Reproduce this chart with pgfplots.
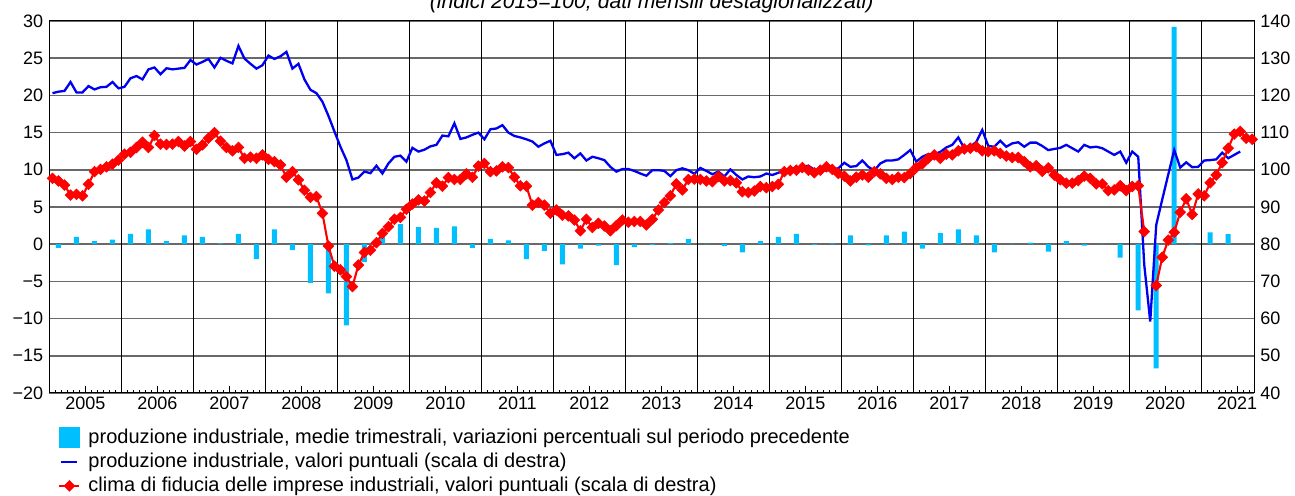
\documentclass[border=0pt]{standalone}
\usepackage{pgfplots}
\pgfplotsset{compat=1.18}
\usepackage{pgfplotstable}
\usepackage{fontspec}
\setmainfont{Liberation Sans}
\definecolor{barcyan}{RGB}{0,191,255}
\definecolor{gridgray}{RGB}{105,105,105}
\definecolor{lineblue}{RGB}{0,0,240}
\definecolor{linered}{RGB}{255,0,0}

% quarterly bars: x = month index (0 = Jan 2005), value in percent (left scale)
\pgfplotstableread{
m v
1 -0.5
4 1.0
7 0.4
10 0.6
13 1.4
16 2.0
19 0.4
22 1.2
25 1.0
28 0.1
31 1.4
34 -2.0
37 2.0
40 -0.8
43 -5.2
46 -6.6
49 -10.9
52 -2.4
55 1.2
58 2.7
61 2.3
64 2.2
67 2.4
70 -0.5
73 0.7
76 0.5
79 -2.0
82 -0.9
85 -2.7
88 -0.6
91 -0.2
94 -2.8
97 -0.4
100 -0.1
103 0.15
106 0.7
109 0.05
112 -0.25
115 -1.1
118 0.4
121 1.0
124 1.4
127 -0.1
130 0.1
133 1.2
136 -0.15
139 1.2
142 1.7
145 -0.6
148 1.5
151 2.0
154 1.2
157 -1.1
160 0.05
163 0.2
166 -1.0
169 0.4
172 -0.2
175 0.05
178 -1.8
181 -8.9
184 -16.7
187 29.2
190 -0.05
193 1.6
196 1.35
}\bars

% industrial production index (right scale)
\pgfplotstableread{
m v
0 120.6
1 121.0
2 121.2
3 123.6
4 120.8
5 120.8
6 122.5
7 121.6
8 122.2
9 122.3
10 123.6
11 121.9
12 122.3
13 124.6
14 125.2
15 124.3
16 127.0
17 127.5
18 125.7
19 127.3
20 127.0
21 127.2
22 127.4
23 129.5
24 128.3
25 129.0
26 129.8
27 127.5
28 130.1
29 129.3
30 128.6
31 133.3
32 129.9
33 128.5
34 127.2
35 128.1
36 130.7
37 129.8
38 130.5
39 131.7
40 127.2
41 128.5
42 124.3
43 121.5
44 120.6
45 118.3
46 114.5
47 110.3
48 106.2
49 102.6
50 97.4
51 97.9
52 99.5
53 99.1
54 101.1
55 99.0
56 101.7
57 103.5
58 103.8
59 102.2
60 105.9
61 104.9
62 105.4
63 106.3
64 106.7
65 109.2
66 109.0
67 112.5
68 108.3
69 108.7
70 109.4
71 110.0
72 108.2
73 110.9
74 111.1
75 112.0
76 110.0
77 109.1
78 108.7
79 108.2
80 107.6
81 106.2
82 107.1
83 107.8
84 104.0
85 104.2
86 104.6
87 103.1
88 104.4
89 102.5
90 103.5
91 103.1
92 102.6
93 100.8
94 99.5
95 100.2
96 100.2
97 99.7
98 99.0
99 98.4
100 99.9
101 99.9
102 99.7
103 98.3
104 99.9
105 100.4
106 99.9
107 98.9
108 100.5
109 99.7
110 98.8
111 99.5
112 98.2
113 100.1
114 98.6
115 97.4
116 98.2
117 98.0
118 98.2
119 99.0
120 98.6
121 99.2
122 99.8
123 100.1
124 100.7
125 100.7
126 101.1
127 100.0
128 99.9
129 99.8
130 100.1
131 100.4
132 101.9
133 100.8
134 101.0
135 102.5
136 100.8
137 99.8
138 101.7
139 102.5
140 102.5
141 102.8
142 104.0
143 105.3
144 102.2
145 103.5
146 104.2
147 104.2
148 104.8
149 106.0
150 106.7
151 108.7
152 105.8
153 106.2
154 107.5
155 110.7
156 106.4
157 106.2
158 107.8
159 106.2
160 107.1
161 107.4
162 106.2
163 107.3
164 107.3
165 106.4
166 105.3
167 105.6
168 105.9
169 106.7
170 105.8
171 104.9
172 106.7
173 106.0
174 106.2
175 105.8
176 104.9
177 104.0
178 104.9
179 101.9
180 104.9
181 103.5
182 74.5
183 59.2
184 85.2
185 92.0
186 98.7
187 105.3
188 100.6
189 102.0
190 100.7
191 100.8
192 102.5
193 102.6
194 102.8
195 104.6
196 103.1
197 104.0
198 104.9
}\prodtab

% business confidence (right scale); April 2020 not available
\pgfplotstableread{
m v
0 97.7
1 97.0
2 95.9
3 93.2
4 93.4
5 93.0
6 96.1
7 99.5
8 100.1
9 100.8
10 101.5
11 102.6
12 104.2
13 104.7
14 106.0
15 107.4
16 106.0
17 109.2
18 106.9
19 106.8
20 106.9
21 107.6
22 106.4
23 107.6
24 105.5
25 106.7
26 108.5
27 110.0
28 107.7
29 106.0
30 105.1
31 106.0
32 103.1
33 103.4
34 103.1
35 104.0
36 102.8
37 102.2
38 101.3
39 98.0
40 99.5
41 97.3
42 94.5
43 92.6
44 92.8
45 88.3
46 79.5
47 74.1
48 73.1
49 71.3
50 68.6
51 74.4
52 77.8
53 78.4
54 80.4
55 82.9
56 84.7
57 86.7
58 87.2
59 89.4
60 90.8
61 91.9
62 91.6
63 93.9
64 96.5
65 95.6
66 97.9
67 97.4
68 97.4
69 98.9
70 98.0
71 101.0
72 101.7
73 99.5
74 99.7
75 100.8
76 100.6
77 98.0
78 95.7
79 95.6
80 90.5
81 91.2
82 90.5
83 88.3
84 89.2
85 87.8
86 87.6
87 86.5
88 83.6
89 86.7
90 84.5
91 85.6
92 84.9
93 83.6
94 85.0
95 86.5
96 85.9
97 86.1
98 86.1
99 85.2
100 86.7
101 89.2
102 91.2
103 93.0
104 96.2
105 94.6
106 97.4
107 97.5
108 97.4
109 97.0
110 96.8
111 98.2
112 97.0
113 97.1
114 96.5
115 94.1
116 93.9
117 94.3
118 95.5
119 95.2
120 95.5
121 96.1
122 99.5
123 99.8
124 99.9
125 100.6
126 99.9
127 99.2
128 99.9
129 100.8
130 100.1
131 99.0
132 98.3
133 97.0
134 98.0
135 98.6
136 98.0
137 99.5
138 98.9
139 97.7
140 97.4
141 98.0
142 97.9
143 99.0
144 100.6
145 101.6
146 103.1
147 104.0
148 103.1
149 104.2
150 104.0
151 105.1
152 105.6
153 105.8
154 106.2
155 105.1
156 104.9
157 105.1
158 104.4
159 103.7
160 103.3
161 103.3
162 102.2
163 100.8
164 101.1
165 99.6
166 100.5
167 98.6
168 97.3
169 96.4
170 96.4
171 97.1
172 98.3
173 97.7
174 96.2
175 96.2
176 94.4
177 94.6
178 95.7
179 94.4
180 95.5
181 95.7
182 83.4
183 nan
184 68.9
185 76.5
186 81.1
187 83.2
188 88.6
189 92.2
190 88.0
191 93.5
192 93.0
193 96.5
194 98.6
195 101.9
196 105.8
197 109.6
198 110.3
199 108.5
200 108.2
}\climatab

\pgfplotsset{
  common/.style={
    at={(0,0)}, anchor=south west,
    width=602.25pt, height=186pt, scale only axis,
    xmin=-0.5, xmax=200.3,
  },
  barlegend/.style={legend image code/.code={
    \path[draw=none, fill=none] (0pt,-6pt) rectangle (10pt,6pt);
    \fill[barcyan] (0pt,-5pt) rectangle (10pt,5pt);}},
  bluelegend/.style={legend image code/.code={
    \path[draw=none, fill=none] (0pt,-6pt) rectangle (10pt,6pt);
    \draw[##1] (1pt,0pt) -- (9pt,0pt);}},
  redlegend/.style={legend image code/.code={
    \path[draw=none, fill=none] (0pt,-6pt) rectangle (10pt,6pt);
    \draw[mark repeat=2, mark phase=2, ##1] plot coordinates {(0pt,0pt) (5pt,0pt) (10pt,0pt)};}},
}

\begin{document}
\begin{tikzpicture}
\useasboundingbox (-24.75pt,-51.5pt) rectangle (622.75pt,196.5pt);

\begin{axis}[
  common,
  ymin=-20, ymax=30,
  axis line style={black, line width=0.5pt},
  ytick={-20,-15,...,30},
  yticklabels={−20,−15,−10,−5,0,5,10,15,20,25,30},
  ytick pos=left,
  ytick style={draw=none},
  yticklabel style={font=\fontsize{9}{10}\selectfont, inner sep=0pt, xshift=-3pt},
  ymajorgrids=true,
  major grid style={gridgray, line width=0.85pt},
  xtick={5.5,17.5,...,197.5},
  xticklabels={2005,2006,2007,2008,2009,2010,2011,2012,2013,2014,2015,2016,2017,2018,2019,2020,2021},
  minor xtick={-0.5,0.5,...,200.5},
  xtick pos=bottom,
  tick align=inside,
  major tick length=3.3pt,
  minor tick length=1.7pt,
  xtick style={black, line width=0.5pt},
  xticklabel style={font=\fontsize{9}{10}\selectfont, inner sep=0pt, anchor=north, yshift=-2pt},
  extra x ticks={11.5,23.5,...,191.5},
  extra x tick labels={},
  extra x tick style={xmajorgrids=true, major tick length=0pt,
    major grid style={black, line width=0.5pt}},
]
\addplot[ybar, bar width=2.5pt, fill=barcyan, draw=none] table[x=m, y=v] {\bars};
\end{axis}

\begin{axis}[
  common,
  ymin=40, ymax=140,
  hide x axis,
  axis line style={black, line width=0.5pt},
  ytick={40,50,...,140},
  ytick pos=right,
  yticklabel pos=right,
  ytick style={draw=none},
  /pgf/number format/assume math mode=true,
  yticklabel style={font=\fontsize{9}{10}\selectfont, inner sep=0pt, xshift=3pt},
  unbounded coords=jump,
  legend style={at={(0,0)}, anchor=north west, xshift=4.25pt, yshift=-16.25pt,
    draw=none, fill=none, inner sep=0pt,
    font=\fontsize{10}{11}\selectfont,
    nodes={inner sep=0pt},
    /tikz/every odd column/.append style={column sep=4pt}},
  legend cell align=left,
]
\addlegendimage{barlegend}
\addlegendentry{produzione industriale, medie trimestrali, variazioni percentuali sul periodo precedente}

\addplot[lineblue, line width=1.15pt, mark=none, bluelegend]
  table[x=m, y=v] {\prodtab};
\addlegendentry{produzione industriale, valori puntuali (scala di destra)}

\addplot[linered, line width=1.05pt, mark=square*, mark size=1.9pt,
  mark options={rotate=45, fill=linered, draw=linered, line width=0.3pt}, redlegend]
  table[x=m, y=v] {\climatab};
\addlegendentry{clima di fiducia delle imprese industriali, valori puntuali (scala di destra)}
\end{axis}

% subtitle, cut by the top edge as in the reference
\node[anchor=base, inner sep=0pt, font=\fontsize{10.6}{11.6}\selectfont\itshape]
  at (301.1pt,192.2pt) {(indici 2015=100; dati mensili destagionalizzati)};
\end{tikzpicture}
\end{document}
